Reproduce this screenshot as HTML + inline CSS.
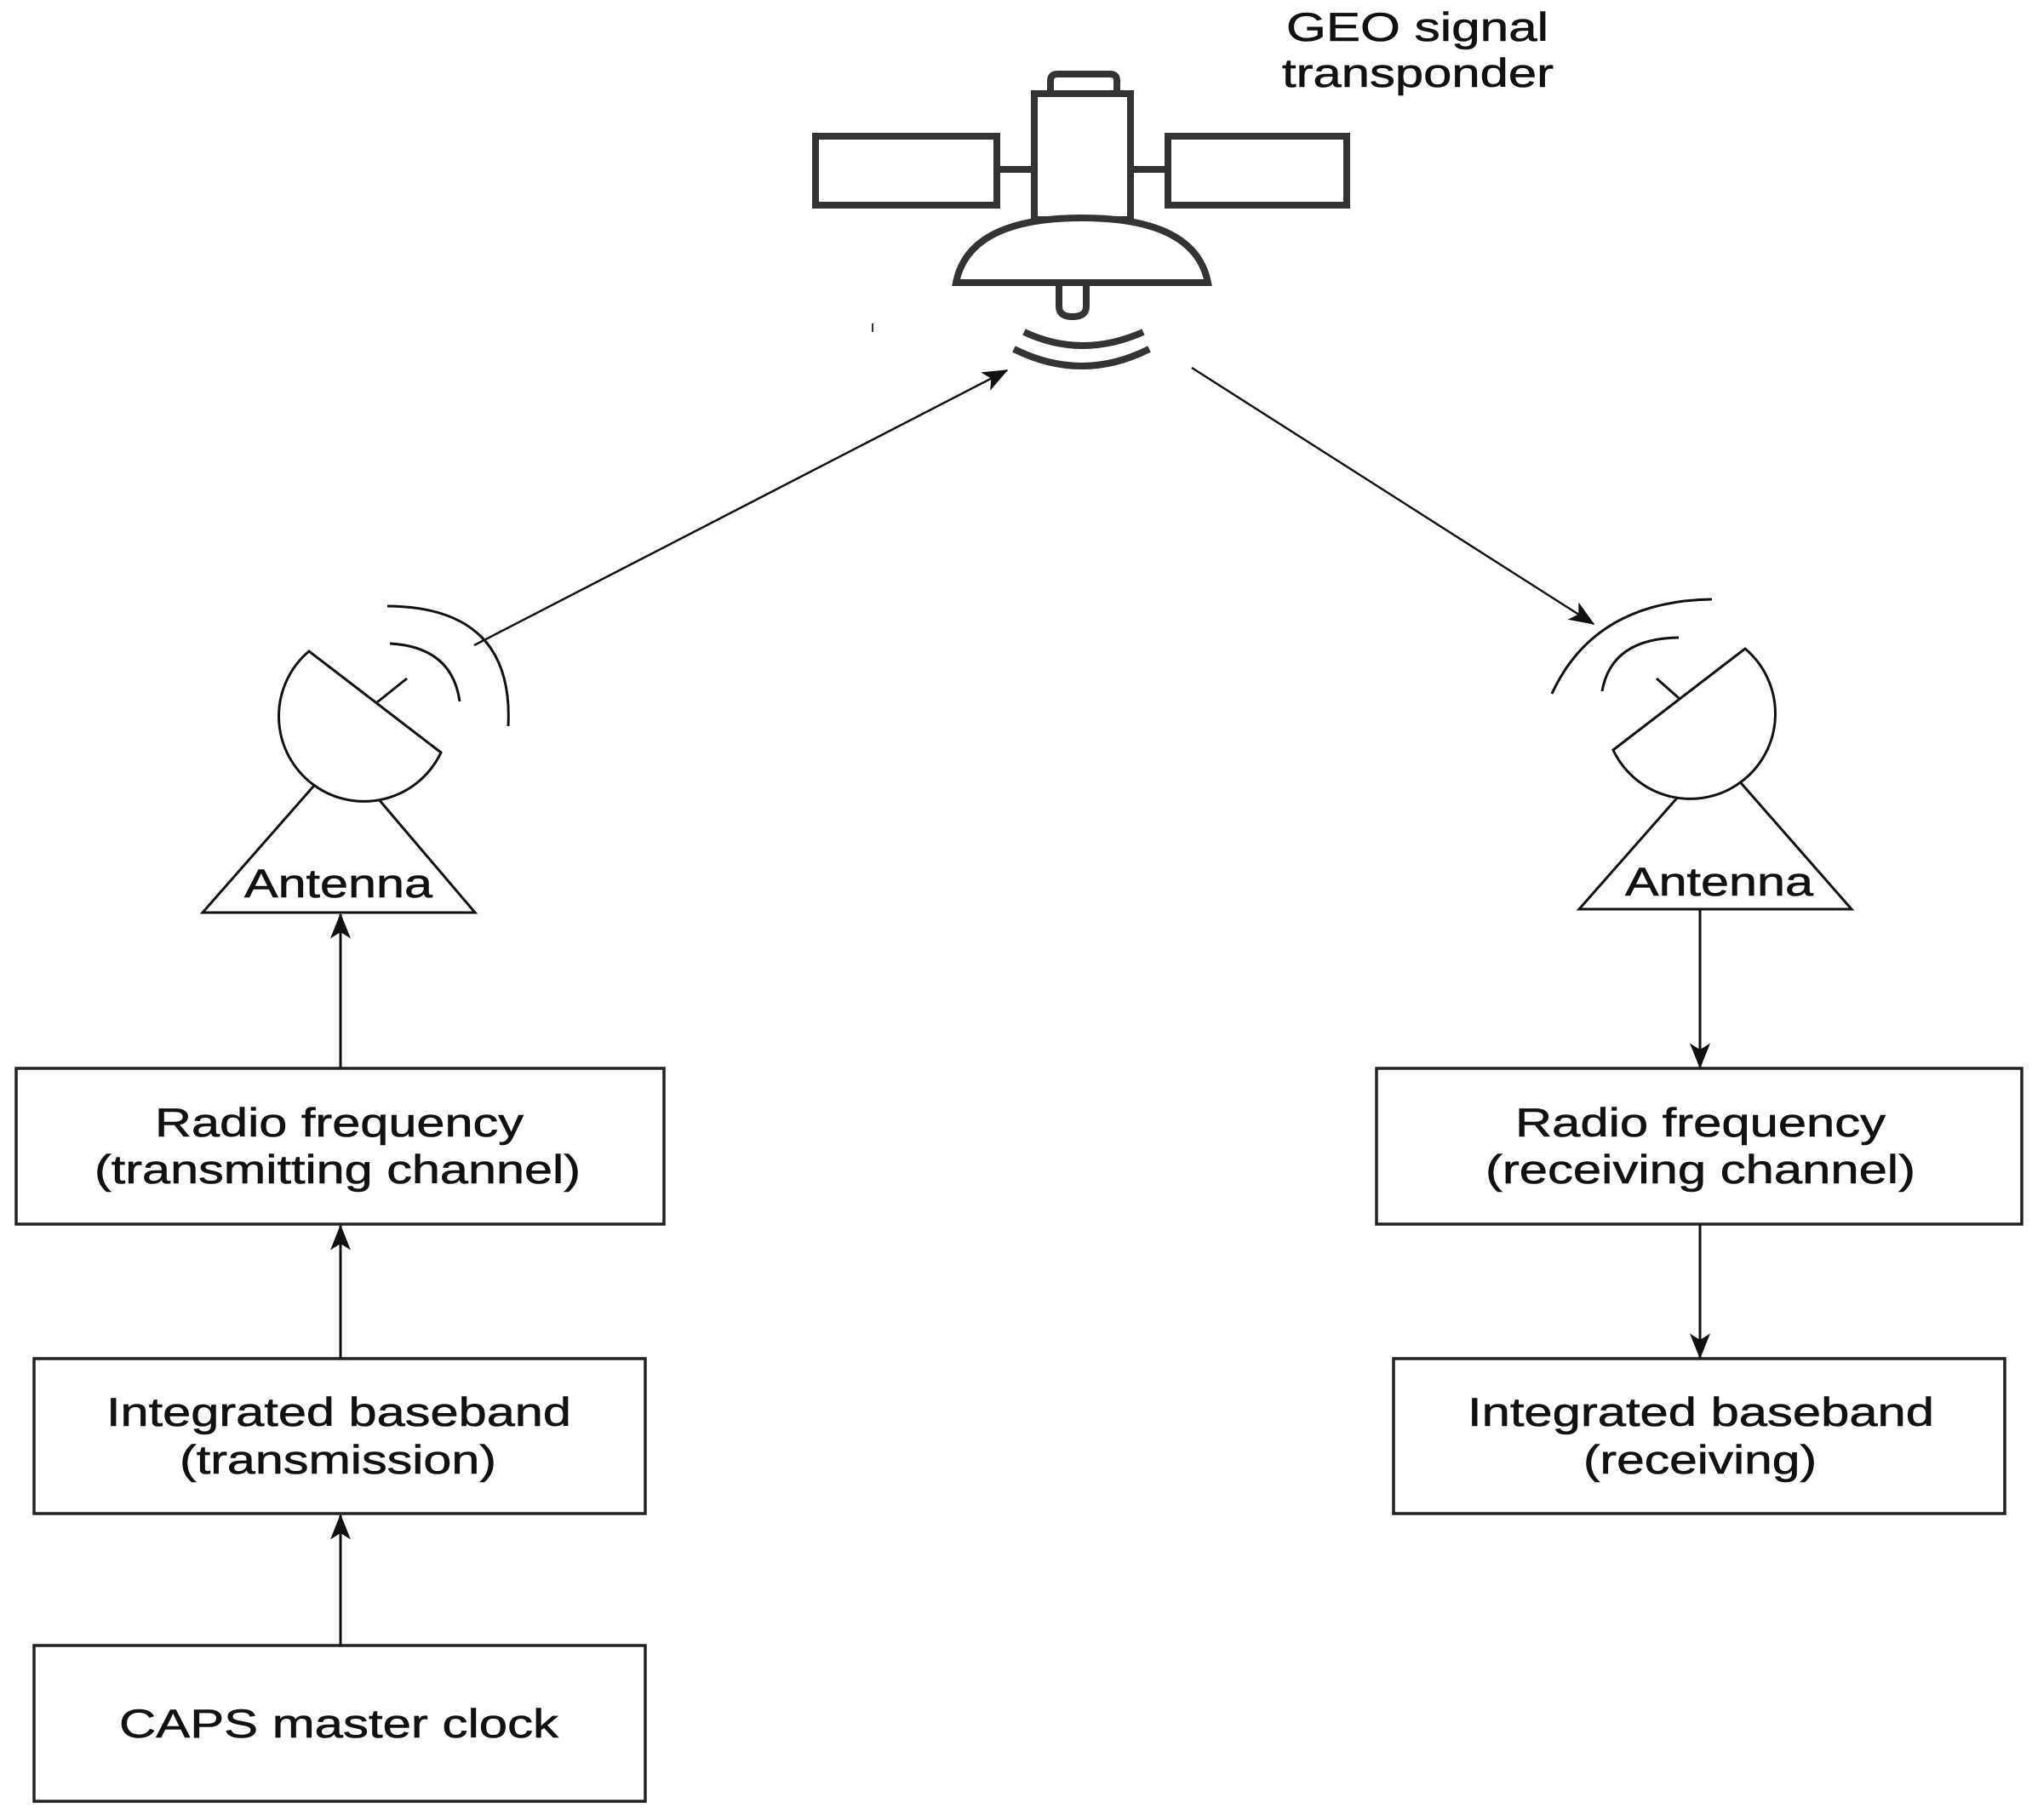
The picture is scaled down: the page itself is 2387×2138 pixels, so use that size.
<!DOCTYPE html>
<html><head><meta charset="utf-8"><style>
html,body{margin:0;padding:0;background:#fff;}
svg{display:block;}
text{font-family:"Liberation Sans",sans-serif;font-size:47px;fill:#111;stroke:#111;stroke-width:0.6px;}
</style></head><body>
<svg width="2387" height="2138" viewBox="0 0 2387 2138" xmlns="http://www.w3.org/2000/svg">
<defs>
<marker id="a" viewBox="0 0 20 20" refX="19" refY="10" markerWidth="30" markerHeight="30" markerUnits="userSpaceOnUse" orient="auto">
<path d="M0,2 L20,10 L0,18 L5,10 Z" fill="#111"/>
</marker>
</defs>
<text x="1511" y="48" textLength="308" lengthAdjust="spacingAndGlyphs">GEO signal</text>
<text x="1506" y="102" textLength="319" lengthAdjust="spacingAndGlyphs">transponder</text>
<g fill="none" stroke="#333" stroke-width="8">
<path d="M1234,110 L1234,95 Q1234,87 1242,87 L1304,87 Q1312,87 1312,95 L1312,110"/>
<rect x="1215" y="110" width="113" height="148"/>
<rect x="958" y="160" width="213" height="81"/>
<rect x="1372" y="160" width="210" height="81"/>
<line x1="1171" y1="199" x2="1215" y2="199"/>
<line x1="1328" y1="199" x2="1372" y2="199"/>
<path d="M1123,332 Q1138,256 1271,256 Q1404,256 1419,332 Z" fill="#fff"/>
<path d="M1244,332 L1244,360 Q1244,372 1260,372 Q1276,372 1276,360 L1276,332"/>
<path d="M1203,390 Q1271,422 1343,390"/>
<path d="M1191,410 Q1271,450 1350,410"/>
</g>
<line x1="1025" y1="380" x2="1025" y2="390" stroke="#333" stroke-width="2"/>
<g stroke="#111" stroke-width="2.5" fill="none">
<line x1="557" y1="758" x2="1183" y2="435" marker-end="url(#a)"/>
<line x1="1400" y1="432" x2="1872" y2="733" marker-end="url(#a)"/>
</g>
<g stroke="#111" stroke-width="3" fill="none">
<path d="M382,908 L238,1072 L558,1072 L427,918"/>
<path d="M363,765 A100,100 0 1 0 518,884 Z" fill="#fff"/>
<line x1="443" y1="825" x2="478" y2="797"/>
<path d="M458,756 Q531,760 540,824"/>
<path d="M455,712 Q604,713 597,853"/>
</g>
<g stroke="#111" stroke-width="3" fill="none">
<path d="M1988,917 L1855,1068 L2175,1068 L2033,906"/>
<path d="M2050,762 A100,100 0 1 1 1895,881 Z" fill="#fff"/>
<line x1="1972" y1="820" x2="1946" y2="797"/>
<path d="M1882,812 Q1893,750 1972,749"/>
<path d="M1823,815 Q1873,706 2011,704"/>
</g>
<text x="287" y="1054" textLength="221" lengthAdjust="spacingAndGlyphs">Antenna</text>
<text x="1909" y="1052" textLength="221" lengthAdjust="spacingAndGlyphs">Antenna</text>
<g fill="none" stroke="#222" stroke-width="3.5">
<rect x="19" y="1255" width="761" height="183"/>
<rect x="40" y="1596" width="718" height="182"/>
<rect x="40" y="1933" width="718" height="183"/>
<rect x="1617" y="1255" width="758" height="183"/>
<rect x="1637" y="1596" width="718" height="182"/>
</g>
<g stroke="#111" stroke-width="3" fill="none">
<line x1="400" y1="1933" x2="400" y2="1780" marker-end="url(#a)"/>
<line x1="400" y1="1596" x2="400" y2="1440" marker-end="url(#a)"/>
<line x1="400" y1="1255" x2="400" y2="1074" marker-end="url(#a)"/>
<line x1="1997" y1="1068" x2="1997" y2="1254" marker-end="url(#a)"/>
<line x1="1997" y1="1438" x2="1997" y2="1595" marker-end="url(#a)"/>
</g>
<text x="182" y="1335" textLength="433" lengthAdjust="spacingAndGlyphs">Radio frequency</text>
<text x="111" y="1390" textLength="571" lengthAdjust="spacingAndGlyphs">(transmitting channel)</text>
<text x="125" y="1675" textLength="546" lengthAdjust="spacingAndGlyphs">Integrated baseband</text>
<text x="211" y="1731" textLength="372" lengthAdjust="spacingAndGlyphs">(transmission)</text>
<text x="140" y="2041" textLength="516" lengthAdjust="spacingAndGlyphs">CAPS master clock</text>
<text x="1780" y="1335" textLength="435" lengthAdjust="spacingAndGlyphs">Radio frequency</text>
<text x="1745" y="1390" textLength="505" lengthAdjust="spacingAndGlyphs">(receiving channel)</text>
<text x="1724" y="1675" textLength="548" lengthAdjust="spacingAndGlyphs">Integrated baseband</text>
<text x="1860" y="1731" textLength="274" lengthAdjust="spacingAndGlyphs">(receiving)</text>
</svg>
</body></html>
